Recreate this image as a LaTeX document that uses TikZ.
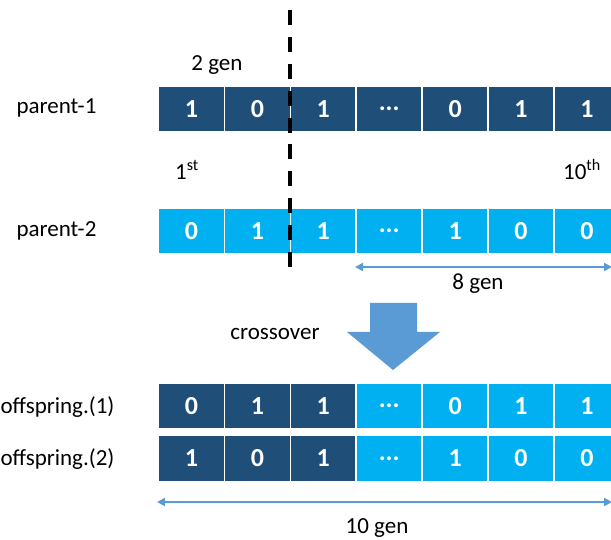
\documentclass[tikz,border=0pt]{standalone}
\usepackage{fontspec}
\setmainfont{Carlito}
\usetikzlibrary{arrows.meta,positioning}

\definecolor{navy}{HTML}{1F4E79}
\definecolor{sky}{HTML}{00B0F0}
\definecolor{arrowblue}{HTML}{5B9BD5}

\newcommand{\genedots}{...}

\tikzset{
  cell/.style={minimum width=66pt, minimum height=46pt, inner sep=0pt,
    draw=white, line width=1.5pt, text=white,
    font=\fontsize{26}{30}\selectfont\bfseries},
  dcell/.style={cell, fill=navy},
  lcell/.style={cell, fill=sky},
  lbl/.style={font=\fontsize{23}{27}\selectfont, inner sep=0pt, anchor=base},
  genspan/.style={arrowblue, line width=2pt,
    {Triangle[length=8pt,width=8pt]}-{Triangle[length=8pt,width=8pt]}},
}

\begin{document}
\begin{tikzpicture}[x=1pt, y=-1pt]
  \useasboundingbox (0,0) rectangle (611,540);
  \clip (0,0) rectangle (611,540);

  % parents
  \foreach \a/\b [count=\i] in {1/0, 0/1, 1/1, \genedots/\genedots, 0/1, 1/0, 1/0} {
    \node[dcell] (pa\i) at ({191.5+65.9*(\i-1)}, 109) {\a};
    \node[lcell] (pb\i) at ({191.5+65.9*(\i-1)}, 231) {\b};
  }
  % offspring, first three genes swapped
  \foreach \a/\b/\s [count=\i] in {0/1/dcell, 1/0/dcell, 1/1/dcell,
      \genedots/\genedots/lcell, 0/1/lcell, 1/0/lcell, 1/0/lcell} {
    \node[\s] (oa\i) at ({191.5+65.9*(\i-1)}, 406) {\a};
    \node[\s] (ob\i) at ({191.5+65.9*(\i-1)}, 458.5) {\b};
  }

  \node[lbl] (par1) at (56.5,114) {parent-1};
  \node[lbl] (par2) at (56.5,237) {parent-2};
  \node[lbl] (off1) at (57.5,413) {offspring.(1)};
  \node[lbl] (off2) at (57.5,465) {offspring.(2)};

  \node[lbl] (gen2) at (217,70.5) {2 gen};
  \node[lbl] (first) at (187,180) {1\textsuperscript{st}};
  \node[lbl] (last) at (582,180) {10\textsuperscript{th}};
  \node[lbl] (gen8) at (478,290) {8 gen};
  \node[lbl] (xover) at (275,340) {crossover};
  \node[lbl] (gen10) at (377,533) {10 gen};

  % crossover point
  \coordinate (cuttop) at (290,10);
  \coordinate (cutbot) at (290,267);
  \draw[line width=3.5pt, dash pattern=on 15pt off 11.9pt] (cuttop) -- (cutbot);

  % gene spans
  \coordinate (s8l) at (355,267);
  \coordinate (s8r) at (612,267);
  \draw[genspan] (s8l) -- (s8r);
  \coordinate (s10l) at (157,502);
  \coordinate (s10r) at (612,502);
  \draw[genspan] (s10l) -- (s10r);

  % down arrow
  \fill[arrowblue] (370,303) -- (417,303) -- (417,332) -- (440,332)
    -- (393,370) -- (347,332) -- (370,332) -- cycle;
\end{tikzpicture}
\end{document}
